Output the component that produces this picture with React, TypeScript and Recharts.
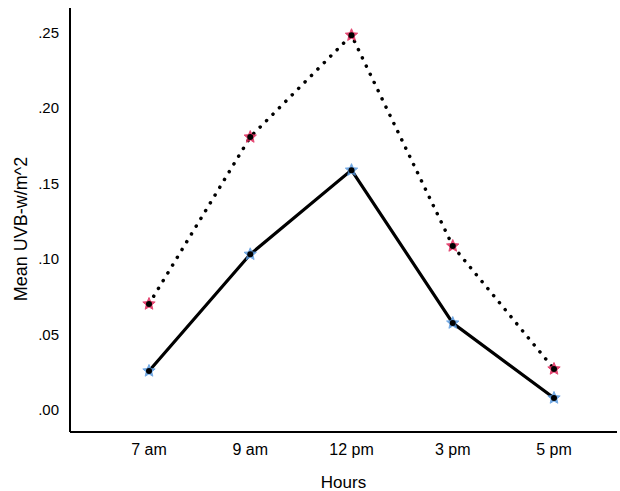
import { CartesianGrid, Line, LineChart, XAxis, YAxis } from "recharts"

const hours = ["7 am", "9 am", "12 pm", "3 pm", "5 pm"]
const dottedSeries = [0.0701, 0.1806, 0.248, 0.1085, 0.0271]
const solidSeries = [0.0258, 0.103, 0.1587, 0.0575, 0.0079]
const yTicks = [0, 0.05, 0.1, 0.15, 0.2, 0.25]

const data = hours.map((h, i) => ({
    hour: h,
    dotted: dottedSeries[i],
    solid: solidSeries[i],
}))

const starPoints = (cx: number, cy: number, r: number) => {
    const pts: string[] = []
    for (let i = 0; i < 10; i++) {
        const rad = i % 2 === 0 ? r : r * 0.45
        const a = -Math.PI / 2 + (i * Math.PI) / 5
        pts.push(`${cx + rad * Math.cos(a)},${cy + rad * Math.sin(a)}`)
    }
    return pts.join(" ")
}

const StarDot = (color: string) => (props: any) => {
    const { cx, cy, index } = props
    if (cx == null || cy == null) return null
    return (
        <g key={`star-${color}-${index}`}>
            <polygon points={starPoints(cx, cy, 6.5)} fill={color} stroke={color} strokeWidth={1} opacity={0.85} />
            <circle cx={cx} cy={cy} r={3} fill="#000" />
        </g>
    )
}

const fmt = (v: number) => v.toFixed(2).replace(/^0/, "")

const XTick = (props: any) => {
    const { x, y, payload } = props
    return (
        <text x={x} y={y + 17} textAnchor="middle" fill="#000" fontSize={16}>
            {payload.value}
        </text>
    )
}

const YTick = (props: any) => {
    const { x, y, payload } = props
    return (
        <text x={x} y={y} textAnchor="end" dominantBaseline="central" fill="#000" fontSize={15}>
            {fmt(payload.value)}
        </text>
    )
}

// y title sits a bit below the plot centre in the original
const YTitle = () => (
    <text
        x={21}
        y={229}
        transform="rotate(-90, 21, 229)"
        textAnchor="middle"
        dominantBaseline="central"
        fill="#000"
        fontSize={18}
    >
        Mean UVB-w/m^2
    </text>
)

export default function App() {
    return (
        <div style={{ position: "absolute", left: 0, top: 0, background: "#fff" }}>
            <LineChart
                width={620}
                height={491}
                data={data}
                margin={{ top: 8, right: 3, bottom: 0, left: 10 }}
                style={{ fontFamily: "Arial, 'Liberation Sans', sans-serif" }}
            >
                <CartesianGrid stroke="none" />
                <XAxis
                    dataKey="hour"
                    padding={{ left: 79, right: 63 }}
                    height={59}
                    tickLine={false}
                    axisLine={{ stroke: "#000", strokeWidth: 2 }}
                    tick={<XTick />}
                    tickMargin={0}
                    label={{ value: "Hours", position: "insideBottom", offset: 3, fill: "#000", fontSize: 17 }}
                />
                <YAxis
                    type="number"
                    domain={[-0.0146, 0.266]}
                    ticks={yTicks}
                    tickFormatter={fmt}
                    width={60}
                    tickLine={false}
                    axisLine={{ stroke: "#000", strokeWidth: 2 }}
                    tick={<YTick />}
                    tickMargin={5}
                    label={<YTitle />}
                />
                <Line
                    dataKey="dotted"
                    stroke="#000"
                    strokeWidth={3.5}
                    strokeDasharray="0.1 9"
                    strokeLinecap="round"
                    dot={StarDot("#e0285a")}
                    isAnimationActive={false}
                />
                <Line
                    dataKey="solid"
                    stroke="#000"
                    strokeWidth={3.2}
                    dot={StarDot("#5b9be0")}
                    isAnimationActive={false}
                />
            </LineChart>
        </div>
    )
}
